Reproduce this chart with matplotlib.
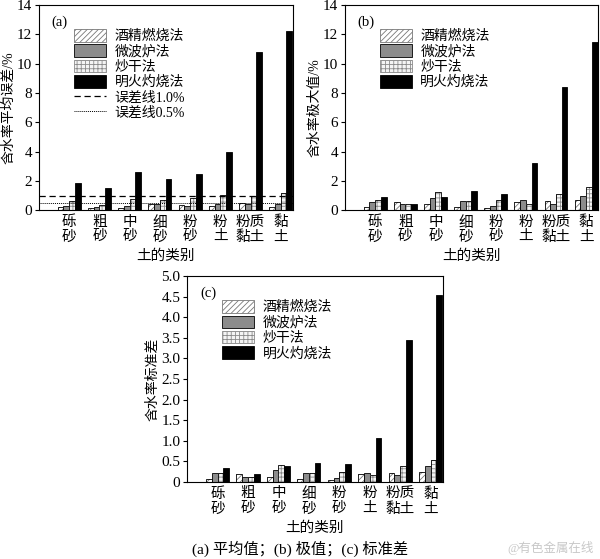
import numpy as np
import matplotlib
matplotlib.use("Agg")
import matplotlib.pyplot as plt

plt.rcParams['font.family'] = ['Liberation Serif', 'Noto Sans CJK SC']
plt.rcParams['hatch.linewidth'] = 0.6

# 土的类别
categories = ["砾\n砂", "粗\n砂", "中\n砂", "细\n砂", "粉\n砂", "粉\n土", "粉质\n黏土", "黏\n土"]
methods = ["酒精燃烧法", "微波炉法", "炒干法", "明火灼烧法"]

# (a) 含水率平均误差 /%
mean_alcohol = [0.20, 0.15, 0.15, 0.40, 0.35, 0.30, 0.50, 0.20]
mean_micro = [0.30, 0.20, 0.30, 0.40, 0.30, 0.45, 0.45, 0.45]
mean_fry = [0.60, 0.35, 0.75, 0.70, 0.80, 1.05, 0.95, 1.20]
mean_fire = [1.85, 1.50, 2.60, 2.10, 2.50, 4.00, 10.80, 12.25]

# (b) 含水率极大值 /%
max_alcohol = [0.25, 0.55, 0.40, 0.25, 0.15, 0.55, 0.60, 0.70]
max_micro = [0.55, 0.45, 0.80, 0.60, 0.30, 0.70, 0.45, 0.95]
max_fry = [0.70, 0.45, 1.25, 0.60, 0.70, 0.40, 1.10, 1.55]
max_fire = [0.90, 0.45, 0.90, 1.30, 1.10, 3.20, 8.40, 11.50]

# (c) 含水率标准差
std_alcohol = [0.08, 0.20, 0.13, 0.08, 0.05, 0.19, 0.22, 0.23]
std_micro = [0.22, 0.13, 0.28, 0.22, 0.10, 0.22, 0.17, 0.39]
std_fry = [0.22, 0.13, 0.41, 0.22, 0.24, 0.17, 0.39, 0.53]
std_fire = [0.34, 0.18, 0.39, 0.46, 0.44, 1.07, 3.45, 4.53]

styles = [
    dict(color="white", hatch="//////", hcol="#777777"),
    dict(color="#8c8c8c", hatch=None, hcol=None),
    dict(color="#f4f4f4", hatch="++++", hcol="#8a8a8a"),
    dict(color="black", hatch=None, hcol=None),
]


def draw_panel(ax, series, ylim, yticks, ylabel, tag, err_lines=False):
    x = np.arange(1, len(categories) + 1)
    w = 0.19
    handles = []
    for i, vals in enumerate(series):
        st = styles[i]
        pos = x + (i - 1.5) * w
        if st["hatch"]:
            # hatch in grey, outline in black
            ax.bar(pos, vals, width=w, facecolor=st["color"], edgecolor=st["hcol"],
                   linewidth=0, hatch=st["hatch"])
            ax.bar(pos, vals, width=w, facecolor="none", edgecolor="black", linewidth=0.6)
            h = plt.Rectangle((0, 0), 1, 1, facecolor=st["color"], edgecolor=st["hcol"],
                              hatch=st["hatch"], linewidth=0.6)
            handles.append((h, methods[i]))
        else:
            b = ax.bar(pos, vals, width=w, facecolor=st["color"], edgecolor="black",
                       linewidth=0.6)
            handles.append((b, methods[i]))
    if err_lines:
        l1 = ax.axhline(1.0, color="black", ls=(0, (5, 3)), lw=0.9)
        l2 = ax.axhline(0.5, color="black", ls=(0, (1, 1)), lw=0.7)
        handles.append((l1, "误差线1.0%"))
        handles.append((l2, "误差线0.5%"))
    ax.set_xlim(0, 8.4)
    ax.set_ylim(*ylim)
    ax.set_yticks(yticks)
    ax.set_xticks(x)
    ax.set_xticklabels(categories, fontsize=10.5, linespacing=1.15)
    ax.tick_params(axis="x", length=0, pad=4)
    ax.tick_params(axis="y", labelsize=11, length=3, width=0.8, pad=2)
    ax.set_xlabel("土的类别", fontsize=10.5, labelpad=4)
    ax.set_ylabel(ylabel, fontsize=10, labelpad=1)
    for s in ax.spines.values():
        s.set_linewidth(0.8)
    ax.text(0.05, 0.95, tag, transform=ax.transAxes, fontsize=10.5, va="top")
    ax.legend([h for h, _ in handles], [t for _, t in handles],
              loc="upper left", bbox_to_anchor=(0.10, 0.93), frameon=False, fontsize=10,
              handlelength=2.3, handleheight=1.0, labelspacing=0.1, borderpad=0.2,
              handletextpad=0.6)


fig = plt.figure(figsize=(6, 5.59), dpi=100)
ax_a = fig.add_axes([0.065, 0.624, 0.423, 0.367])
ax_b = fig.add_axes([0.575, 0.624, 0.422, 0.367])
ax_c = fig.add_axes([0.312, 0.138, 0.426, 0.368])

draw_panel(ax_a, [mean_alcohol, mean_micro, mean_fry, mean_fire], (0, 14),
           np.arange(0, 15, 2), "含水率平均误差/%", "(a)", err_lines=True)
draw_panel(ax_b, [max_alcohol, max_micro, max_fry, max_fire], (0, 14),
           np.arange(0, 15, 2), "含水率极大值/%", "(b)")
draw_panel(ax_c, [std_alcohol, std_micro, std_fry, std_fire], (0, 5),
           np.arange(0, 5.01, 0.5), "含水率标准差", "(c)")
ax_c.set_yticklabels([f"{v:.1f}" if v > 0 else "0" for v in np.arange(0, 5.01, 0.5)])

fig.text(0.5, 0.018, "(a) 平均值；(b) 极值；(c) 标准差", ha="center", va="center", fontsize=11)
fig.text(0.99, 0.008, "@有色金属在线", ha="right", va="bottom", fontsize=9, color="#c8c8c8")

fig.savefig("out.png", dpi=100)
